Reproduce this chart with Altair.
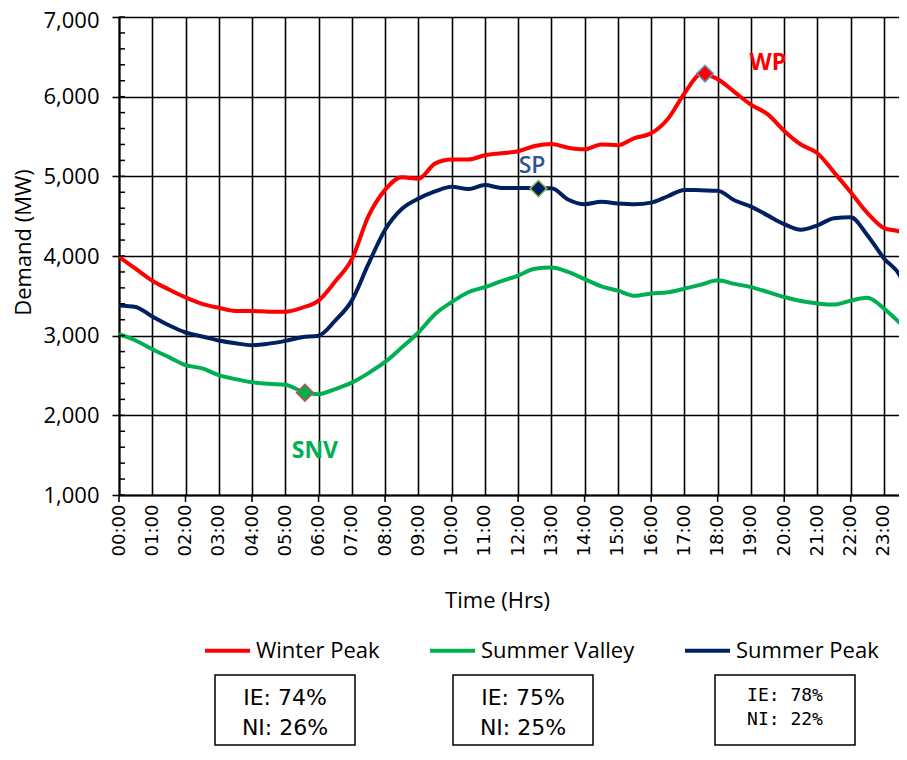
import altair as alt
import pandas as pd

# ---------------- data ----------------
time_hours = [i * 0.5 for i in range(48)] + [23.75]

winter_peak = [3990, 3840, 3690, 3580, 3480, 3400, 3350, 3310, 3310, 3300,
               3300, 3350, 3440, 3680, 3960, 4500, 4830, 4990, 4970, 5160,
               5210, 5210, 5265, 5290, 5315, 5380, 5405, 5360, 5340, 5400,
               5390, 5480, 5540, 5720, 6040, 6280, 6220, 6060, 5900, 5780,
               5570, 5400, 5290, 5050, 4800, 4540, 4350, 4300, 4200]
summer_valley = [3020, 2940, 2830, 2730, 2630, 2590, 2505, 2455, 2415, 2395,
                 2385, 2300, 2265, 2330, 2410, 2530, 2670, 2850, 3040, 3270,
                 3420, 3545, 3610, 3685, 3755, 3840, 3855, 3800, 3710, 3620,
                 3565, 3500, 3530, 3545, 3590, 3640, 3695, 3650, 3610, 3550,
                 3485, 3435, 3405, 3390, 3440, 3475, 3340, 3150, 3050]
summer_peak = [3380, 3360, 3240, 3130, 3040, 2990, 2940, 2905, 2880, 2900,
               2935, 2980, 3000, 3190, 3440, 3900, 4330, 4590, 4720, 4810,
               4870, 4840, 4890, 4855, 4855, 4850, 4850, 4710, 4650, 4680,
               4660, 4650, 4670, 4750, 4830, 4825, 4820, 4700, 4620, 4510,
               4400, 4330, 4385, 4475, 4485, 4260, 3970, 3740, 3500]

series_names = ["Winter Peak", "Summer Valley", "Summer Peak"]
series_colors = ["#FF0000", "#00B050", "#002060"]

marker_labels = ["WP", "SP", "SNV"]
marker_hours = [17.62, 12.61, 5.59]
marker_values = [6290, 4846, 2283]
marker_fill = ["#FF0000", "#002060", "#00B050"]
marker_stroke = ["#5B9BD5", "#9BBB59", "#C0504D"]

label_hours = [19.51, 12.42, 5.89]
label_values = [6425, 5125, 1550]
label_colors = ["#FF0000", "#2F5597", "#00B050"]
label_bold = [True, False, True]

box_line1 = ["IE: 74%", "IE: 75%", "IE: 78%"]
box_line2 = ["NI: 26%", "NI: 25%", "NI: 22%"]

hour_ticks = list(range(24))
y_ticks = [1000, 2000, 3000, 4000, 5000, 6000, 7000]

# ---------------- layout ----------------
W, H = 780, 478
PX_PER_HOUR = 33.26
XMAX = W / PX_PER_HOUR
FONT = "Open Sans"

rows = []
for name, vals in zip(series_names, [winter_peak, summer_valley, summer_peak]):
    for t, v in zip(time_hours, vals):
        rows.append({"time": t, "series": name, "value": v})
df = pd.DataFrame(rows)

xscale = alt.Scale(domain=[0, XMAX], nice=False, zero=False)
yscale = alt.Scale(domain=[1000, 7000], nice=False, zero=False)

x_axis = alt.Axis(
    values=hour_ticks, tickCount=24,
    labelExpr="(datum.value < 10 ? '0' : '') + datum.value + ':00'",
    labelAngle=-90, labelFont="DejaVu Sans", labelFontSize=18, labelColor="#000",
    labelPadding=9, labelOverlap=False, labelFlush=False, labelBound=False,
    ticks=False, grid=True, gridColor="#000", gridWidth=1.6, gridOpacity=1,
    domainColor="#000", domainWidth=2,
    title="Time (Hrs)", titleFont=FONT, titleFontSize=22, titleFontWeight="normal",
    titleColor="#000", titleX=378, titleY=105, titleAlign="center", titleBaseline="middle",
)
y_axis = alt.Axis(
    values=y_ticks, format=",d",
    labelFont=FONT, labelFontSize=22, labelColor="#000", labelPadding=13,
    labelOffset={"condition": {"test": "datum.value == 7000", "value": 3}, "value": 0},
    tickSize=7, tickColor="#000", tickWidth=1.6,
    grid=True, gridColor="#000", gridWidth=1.6, gridOpacity=1,
    domainColor="#000", domainWidth=2,
    title="Demand (MW)", titleFont=FONT, titleFontSize=22, titleFontWeight="normal",
    titleColor="#000", titleX=-96, titleY=225, titleAlign="center", titleBaseline="middle",
    titleAngle=-90,
)

lines = alt.Chart(df).mark_line(strokeWidth=4, interpolate="monotone", clip=True).encode(
    x=alt.X("time:Q", scale=xscale, axis=x_axis),
    y=alt.Y("value:Q", scale=yscale, axis=y_axis),
    color=alt.Color(
        "series:N",
        scale=alt.Scale(domain=series_names, range=series_colors),
        sort=series_names,
        legend=alt.Legend(
            orient="none", legendX=84, legendY=609, direction="horizontal",
            title=None, symbolType="stroke", symbolSize=2025, symbolStrokeWidth=4,
            labelFont=FONT, labelFontSize=22, labelColor="#000", labelOffset=4,
            columnPadding=42, padding=0, labelLimit=400,
        ),
    ),
    detail="series:N",
)

# minor / inward ticks on y axis
minor_df = pd.DataFrame({"v": list(range(1000, 7001, 200))})
y_minor = alt.Chart(minor_df).mark_rule(color="#000", strokeWidth=1.5).encode(
    y=alt.Y("v:Q", scale=yscale, axis=None),
    x=alt.value(0), x2=alt.value(6),
)
# ticks every two hours on x axis
xt_df = pd.DataFrame({"h": hour_ticks[::2]})
x_major = alt.Chart(xt_df).mark_rule(color="#000", strokeWidth=1.6).encode(
    x=alt.X("h:Q", scale=xscale, axis=None),
    y=alt.value(H), y2=alt.value(H + 7),
)

mk_df = pd.DataFrame({"label": marker_labels, "time": marker_hours, "value": marker_values,
                      "fill": marker_fill, "stroke": marker_stroke})
markers = alt.Chart(mk_df).mark_point(shape="diamond", size=280, strokeWidth=1.5,
                                      opacity=1, fillOpacity=1).encode(
    x=alt.X("time:Q", scale=xscale, axis=None),
    y=alt.Y("value:Q", scale=yscale, axis=None),
    fill=alt.Fill("fill:N", scale=None),
    stroke=alt.Stroke("stroke:N", scale=None),
)

lb_df = pd.DataFrame({"label": marker_labels, "time": label_hours, "value": label_values,
                      "color": label_colors, "bold": label_bold})
labels_bold = alt.Chart(lb_df).transform_filter("datum.bold").mark_text(
    font=FONT, fontSize=23, fontWeight="bold", align="center", baseline="middle").encode(
    x=alt.X("time:Q", scale=xscale, axis=None), y=alt.Y("value:Q", scale=yscale, axis=None),
    text="label:N", color=alt.Color("color:N", scale=None),
)
labels_norm = alt.Chart(lb_df).transform_filter("!datum.bold").mark_text(
    font=FONT, fontSize=23, fontWeight=600, align="center", baseline="middle").encode(
    x=alt.X("time:Q", scale=xscale, axis=None), y=alt.Y("value:Q", scale=yscale, axis=None),
    text="label:N", color=alt.Color("color:N", scale=None),
)

# annotation boxes (layout in pixels, relative to the plot area)
box_left = [96, 334, 596]
box_right = [236, 474, 736]
box_top, box_bottom = 658, 728
text_y1 = [681, 681, 679]
text_y2 = [711, 711, 703]
text_font = ["DejaVu Sans", "DejaVu Sans", "DejaVu Sans Mono"]
text_size = [22, 22, 18]

one = pd.DataFrame({"k": [0]})
box_layers = []
for i in range(3):
    box_layers.append(
        alt.Chart(one).mark_rect(fill="white", stroke="#000", strokeWidth=1.5).encode(
            x=alt.value(box_left[i]), x2=alt.value(box_right[i]),
            y=alt.value(box_top), y2=alt.value(box_bottom))
    )
    cx = (box_left[i] + box_right[i]) / 2
    for ty, txt in [(text_y1[i], box_line1[i]), (text_y2[i], box_line2[i])]:
        box_layers.append(
            alt.Chart(one).mark_text(font=text_font[i], fontSize=text_size[i], color="#000",
                                     align="center", baseline="middle").encode(
                x=alt.value(cx), y=alt.value(ty), text=alt.value(txt))
        )

chart = alt.layer(lines, y_minor, x_major, markers, labels_bold, labels_norm, *box_layers).resolve_axis(
    x="independent", y="independent"
).properties(
    width=W, height=H,
    autosize=alt.AutoSizeParams(type="none"),
    padding={"left": 111, "top": 9, "right": 0, "bottom": 251},
    background="white",
).configure_view(stroke=None)

chart.save("out.html", embed_options={"renderer": "svg", "actions": False})
